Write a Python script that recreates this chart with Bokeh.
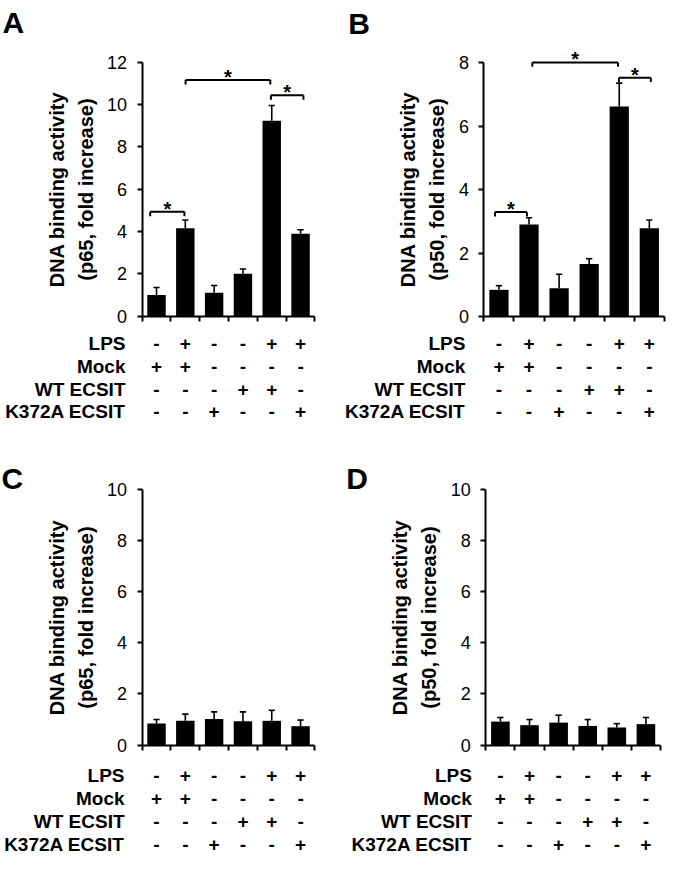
from bokeh.plotting import figure
from bokeh.models import Range1d, LinearAxis, FixedTicker
from bokeh.core.properties import value
from bokeh.embed import file_html
from bokeh.resources import INLINE

# ---------------- data ----------------
row_names = ["LPS", "Mock", "WT ECSIT", "K372A ECSIT"]
lps_row = ["-", "+", "-", "-", "+", "+"]
mock_row = ["+", "+", "-", "-", "-", "-"]
wt_row = ["-", "-", "-", "+", "+", "-"]
k372a_row = ["-", "-", "+", "-", "-", "+"]

p65_lps_mean = [1.00, 4.15, 1.10, 2.00, 9.23, 3.89]
p65_lps_err = [0.35, 0.39, 0.35, 0.23, 0.72, 0.19]
p50_lps_mean = [0.85, 2.91, 0.90, 1.66, 6.62, 2.79]
p50_lps_err = [0.13, 0.21, 0.44, 0.17, 0.74, 0.26]
p65_ctrl_mean = [0.85, 0.95, 1.02, 0.93, 0.95, 0.74]
p65_ctrl_err = [0.15, 0.26, 0.28, 0.37, 0.41, 0.24]
p50_ctrl_mean = [0.92, 0.78, 0.88, 0.75, 0.69, 0.82]
p50_ctrl_err = [0.16, 0.22, 0.29, 0.25, 0.15, 0.26]

yticks_A = [0, 2, 4, 6, 8, 10, 12]
yticks_B = [0, 2, 4, 6, 8]
yticks_CD = [0, 2, 4, 6, 8, 10]

# significance brackets (left end, right end, level) in category / value units
sig_A_left = [0.28, 1.51, 4.47]
sig_A_right = [1.47, 4.45, 5.60]
sig_A_level = [4.93, 11.15, 10.43]
sig_B_left = [0.37, 1.61, 4.49]
sig_B_right = [1.43, 4.46, 5.55]
sig_B_level = [3.30, 8.01, 7.53]

title_p65 = "DNA binding activity\n(p65, fold increase)"
title_p50 = "DNA binding activity\n(p50, fold increase)"

# ---------------- layout ----------------
REF_W, REF_H = 683, 880
FONT = "Liberation Sans"

p = figure(width=667, height=858, x_range=Range1d(0, REF_W), y_range=Range1d(REF_H, 2),
           output_backend="svg", toolbar_location=None,
           x_axis_location=None, y_axis_location=None, min_border=0,
           outline_line_color=None, background_fill_color="white")
for g in p.grid:
    g.visible = False

rows = [lps_row, mock_row, wt_row, k372a_row]


def add_panel(key, letter, letter_x, letter_y, x0, w, y0, h, ymax, yticks,
              means, errs, title, label_right, row_y, sig=None):
    xr, yr = "x" + key, "y" + key
    p.extra_x_ranges[xr] = Range1d(-x0 / w, (REF_W - x0) / w)
    p.extra_y_ranges[yr] = Range1d((y0 - REF_H) / h, (y0 - 2) / h)
    centers = [i + 0.5 for i in range(len(means))]

    p.vbar(x=centers, top=means, bottom=0, width=0.64, fill_color="black",
           line_color=None, x_range_name=xr, y_range_name=yr)
    tops = [m + e for m, e in zip(means, errs)]
    p.segment(x0=centers, y0=means, x1=centers, y1=tops, line_color="black",
              line_width=1.6, x_range_name=xr, y_range_name=yr)
    cap = 3.2 / w
    p.segment(x0=[c - cap for c in centers], y0=tops, x1=[c + cap for c in centers], y1=tops,
              line_color="black", line_width=1.6, x_range_name=xr, y_range_name=yr)

    yax = LinearAxis(x_range_name=xr, y_range_name=yr, fixed_location=0, bounds=(0, ymax),
                     ticker=FixedTicker(ticks=yticks, minor_ticks=[]),
                     axis_label=title)
    yax.axis_line_width = 2
    yax.major_tick_line_width = 2
    yax.major_tick_out = 5
    yax.major_tick_in = 0
    yax.minor_tick_out = 0
    yax.minor_tick_in = 0
    yax.major_label_standoff = 10
    yax.major_label_text_font = FONT
    yax.major_label_text_font_size = "18px"
    yax.major_label_text_color = "black"
    yax.axis_label_text_font = FONT
    yax.axis_label_text_font_size = "20px"
    yax.axis_label_text_font_style = "bold"
    yax.axis_label_text_color = "black"
    yax.axis_label_standoff = 7
    yax.axis_label_text_line_height = 1.35
    p.add_layout(yax, "left")

    xax = LinearAxis(x_range_name=xr, y_range_name=yr, fixed_location=0, bounds=(0, 6),
                     ticker=FixedTicker(ticks=list(range(7)), minor_ticks=[]),
                     major_label_overrides={i: "" for i in range(7)})
    xax.axis_line_width = 2
    xax.major_tick_line_width = 2
    xax.major_tick_out = 5
    xax.major_tick_in = 0
    xax.minor_tick_out = 0
    xax.minor_tick_in = 0
    p.add_layout(xax, "below")

    if sig is not None:
        left, right, level = sig
        leg = 4.5 / h
        p.segment(x0=left, y0=level, x1=right, y1=level, line_color="black", line_width=2,
                  x_range_name=xr, y_range_name=yr)
        p.segment(x0=left, y0=level, x1=left, y1=[l - leg for l in level], line_color="black",
                  line_width=2, x_range_name=xr, y_range_name=yr)
        p.segment(x0=right, y0=level, x1=right, y1=[l - leg for l in level], line_color="black",
                  line_width=2, x_range_name=xr, y_range_name=yr)
        mids = [(a + b) / 2 for a, b in zip(left, right)]
        p.text(x=mids, y=level, text=["*"] * len(mids), text_align="center",
               text_baseline="alphabetic", y_offset=-3,
               text_font=value(FONT), text_font_style="bold", text_font_size="20px",
               text_color="black", x_range_name=xr, y_range_name=yr)

    # treatment table
    for r, (name, signs) in enumerate(zip(row_names, rows)):
        p.text(x=[label_right], y=[row_y[r]], text=[name], text_align="right",
               text_baseline="middle", text_font=value(FONT), text_font_style="bold",
               text_font_size="19px", text_color="black")
        p.text(x=centers, y=[row_y[r]] * len(centers), text=signs, text_align="center",
               text_baseline="middle", text_font=value(FONT), text_font_style="bold",
               text_font_size="19px", text_color="black", x_range_name=xr)

    # panel letter
    p.text(x=[letter_x], y=[letter_y], text=[letter], text_align="left",
           text_baseline="alphabetic", text_font=value(FONT), text_font_style="bold",
           text_font_size="30px", text_color="black")


rows_top = [353, 376.5, 399.7, 422.8]
rows_bot = [795, 818.8, 842, 866]

add_panel("A", "A", 2, 25, 145, 29.5, 325, 260 / 12, 12, yticks_A,
          p65_lps_mean, p65_lps_err, title_p65, 128, rows_top,
          (sig_A_left, sig_A_right, sig_A_level))
add_panel("B", "B", 356, 26, 495, 30.8, 325.7, 260 / 8, 8, yticks_B,
          p50_lps_mean, p50_lps_err, title_p50, 476, rows_top,
          (sig_B_left, sig_B_right, sig_B_level))
add_panel("C", "C", 1, 491, 145, 29.5, 764, 26.2, 10, yticks_CD,
          p65_ctrl_mean, p65_ctrl_err, title_p65, 127, rows_bot)
add_panel("D", "D", 354, 491, 497, 29.8, 764, 26.2, 10, yticks_CD,
          p50_ctrl_mean, p50_ctrl_err, title_p50, 482.7, rows_bot)

open("out.html", "w").write(file_html(p, INLINE))
